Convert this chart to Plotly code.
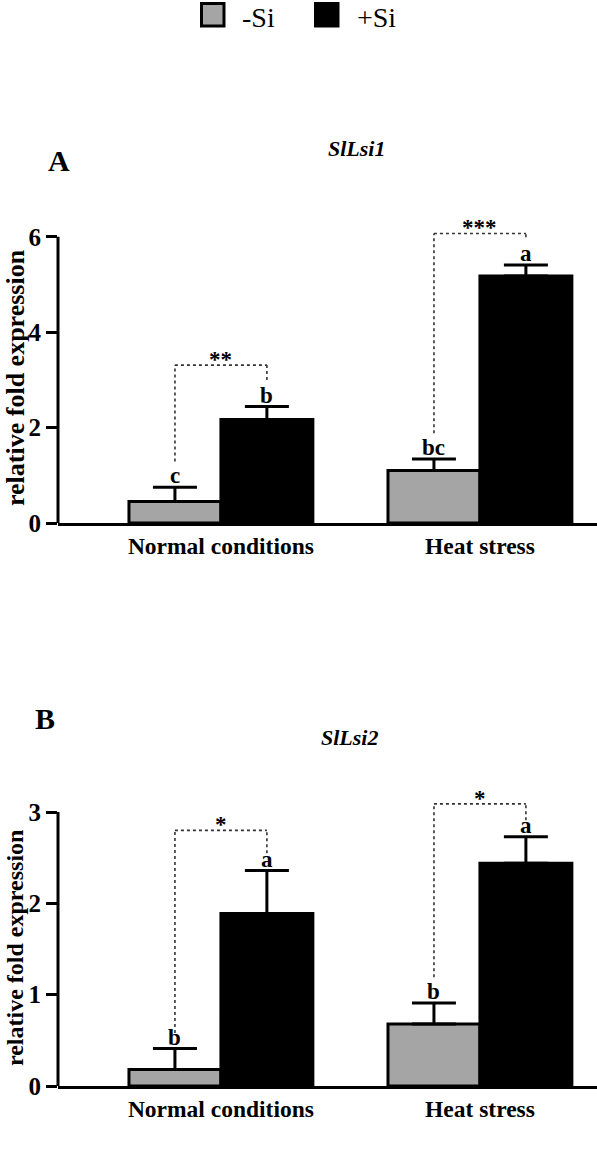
import plotly.graph_objects as go

# ---------------- data ----------------
categories = ["Normal conditions", "Heat stress"]
series_names = ["-Si", "+Si"]

lsi1_minus = [0.45, 1.10]
lsi1_minus_err = [0.30, 0.24]
lsi1_plus = [2.17, 5.18]
lsi1_plus_err = [0.27, 0.23]
lsi1_letters_minus = ["c", "bc"]
lsi1_letters_plus = ["b", "a"]
lsi1_stars = ["**", "***"]
lsi1_bracket_top = [3.31, 6.07]
lsi1_bracket_left = [1.29, 1.88]
lsi1_bracket_right = [3.00, 5.99]

lsi2_minus = [0.18, 0.68]
lsi2_minus_err = [0.23, 0.23]
lsi2_plus = [1.89, 2.44]
lsi2_plus_err = [0.47, 0.29]
lsi2_letters_minus = ["b", "b"]
lsi2_letters_plus = ["a", "a"]
lsi2_stars = ["*", "*"]
lsi2_bracket_top = [2.80, 3.09]
lsi2_bracket_left = [0.58, 1.19]
lsi2_bracket_right = [2.55, 2.91]

ticks_A = [0, 2, 4, 6]
ticks_B = [0, 1, 2, 3]

# ---------------- style ----------------
W, H = 597, 1149
GRAY = "#a5a5a5"
FONT = "Liberation Serif"
BW = 0.355  # bar width in category units
XR = [-0.629, 1.452]


def f(size, weight="bold", style="normal"):
    return dict(family=FONT, size=size, color="black", weight=weight, style=style)


fig = go.Figure()

panels = [
    dict(xa="x", ya="y", minus=lsi1_minus, me=lsi1_minus_err, plus=lsi1_plus, pe=lsi1_plus_err,
         lm=lsi1_letters_minus, lp=lsi1_letters_plus, stars=lsi1_stars,
         bt=lsi1_bracket_top, bl=lsi1_bracket_left, br=lsi1_bracket_right,
         ticks=ticks_A, yr=[0, 6.4]),
    dict(xa="x2", ya="y2", minus=lsi2_minus, me=lsi2_minus_err, plus=lsi2_plus, pe=lsi2_plus_err,
         lm=lsi2_letters_minus, lp=lsi2_letters_plus, stars=lsi2_stars,
         bt=lsi2_bracket_top, bl=lsi2_bracket_left, br=lsi2_bracket_right,
         ticks=ticks_B, yr=[0, 3.3]),
]

annotations = []
shapes = []
for p in panels:
    for vals, errs, color, off in [(p["minus"], p["me"], GRAY, -BW), (p["plus"], p["pe"], "black", 0.0)]:
        fig.add_trace(go.Bar(
            x=categories, y=vals, width=BW, offset=off,
            marker=dict(color=color, line=dict(color="black", width=3)),
            error_y=dict(type="data", symmetric=False, array=errs, arrayminus=[0] * len(errs),
                         color="black", thickness=3, width=22),
            xaxis=p["xa"], yaxis=p["ya"], showlegend=False, hoverinfo="skip",
        ))
    for i in range(len(categories)):
        xl = i - BW / 2
        xr = i + BW / 2
        # letters
        for xc, v, e, t in [(xl, p["minus"][i], p["me"][i], p["lm"][i]), (xr, p["plus"][i], p["pe"][i], p["lp"][i])]:
            annotations.append(dict(x=xc, y=v + e, xref=p["xa"], yref=p["ya"], text=t,
                                    showarrow=False, yanchor="bottom", yshift=-3, font=f(23)))
        # bracket
        line = dict(color="#333333", width=1.6, dash="dot")
        shapes.append(dict(type="line", xref=p["xa"], yref=p["ya"], x0=xl, x1=xl, y0=p["bl"][i], y1=p["bt"][i], line=line))
        shapes.append(dict(type="line", xref=p["xa"], yref=p["ya"], x0=xl, x1=xr, y0=p["bt"][i], y1=p["bt"][i], line=line))
        shapes.append(dict(type="line", xref=p["xa"], yref=p["ya"], x0=xr, x1=xr, y0=p["br"][i], y1=p["bt"][i], line=line))
        annotations.append(dict(x=i, y=p["bt"][i], xref=p["xa"], yref=p["ya"], text=p["stars"][i],
                                showarrow=False, yanchor="bottom", yshift=-9, font=f(23)))
    # y spine from 0 to last tick
    dom = p["xa"] + " domain"
    shapes.append(dict(type="line", xref=dom, yref=p["ya"], x0=0, x1=0, y0=p["ticks"][0], y1=p["ticks"][-1],
                       line=dict(color="black", width=3)))


def py(v):
    return 1 - v / H


x_dom = [58 / W, 1.0]
axis_common = dict(showgrid=False, zeroline=False, automargin=False)
fig.update_layout(
    xaxis=dict(domain=x_dom, range=XR, anchor="y", showline=True, linewidth=3, linecolor="black",
               ticks="", tickfont=f(23.5), **axis_common),
    yaxis=dict(domain=[py(523), py(523 - 6.4 * 47.7)], range=panels[0]["yr"], anchor="x",
               showline=False, tickvals=ticks_A, ticks="outside", ticklen=11, tickwidth=3, tickcolor="black",
               tickfont=f(25), **axis_common),
    xaxis2=dict(domain=x_dom, range=XR, anchor="y2", showline=True, linewidth=3, linecolor="black",
                ticks="", tickfont=f(23.5), **axis_common),
    yaxis2=dict(domain=[py(1086), py(1086 - 3.3 * 91.3)], range=panels[1]["yr"], anchor="x2",
                showline=False, tickvals=ticks_B, ticks="outside", ticklen=11, tickwidth=3, tickcolor="black",
                tickfont=f(25), **axis_common),
)

# panel letters, gene titles, y titles
for txt, x, y, size, style in [("A", 59, 160, 30, "normal"), ("B", 45, 718, 30, "normal"),
                               ("SlLsi1", 356, 148, 22, "italic"), ("SlLsi2", 350, 737, 22, "italic")]:
    annotations.append(dict(x=x / W, y=py(y), xref="paper", yref="paper", text=txt, showarrow=False,
                            xanchor="center", yanchor="middle", font=f(size, style=style)))
for y, size in [(378, 26), (948, 24)]:
    annotations.append(dict(x=15 / W, y=py(y), xref="paper", yref="paper", text="relative fold expression",
                            textangle=-90, showarrow=False, xanchor="center", yanchor="middle", font=f(size)))

# legend (drawn manually)
for name, color, sx, tx in [(series_names[0], GRAY, 200, 240), (series_names[1], "black", 314, 355)]:
    shapes.append(dict(type="rect", xref="paper", yref="paper", x0=(sx + 1.5) / W, x1=(sx + 24) / W,
                       y0=py(26), y1=py(3.5), fillcolor=color, line=dict(color="black", width=3)))
    annotations.append(dict(x=tx / W, y=py(17), xref="paper", yref="paper", text=name, showarrow=False,
                            xanchor="left", yanchor="middle", font=f(28, weight="normal")))

fig.update_layout(
    width=W, height=H, margin=dict(l=0, r=0, t=0, b=0),
    paper_bgcolor="white", plot_bgcolor="white",
    barmode="overlay", shapes=shapes, annotations=annotations, showlegend=False,
)

fig.write_html("out.html", config={"displayModeBar": False},
               post_script="document.body.style.margin='0';document.body.style.padding='0';")
